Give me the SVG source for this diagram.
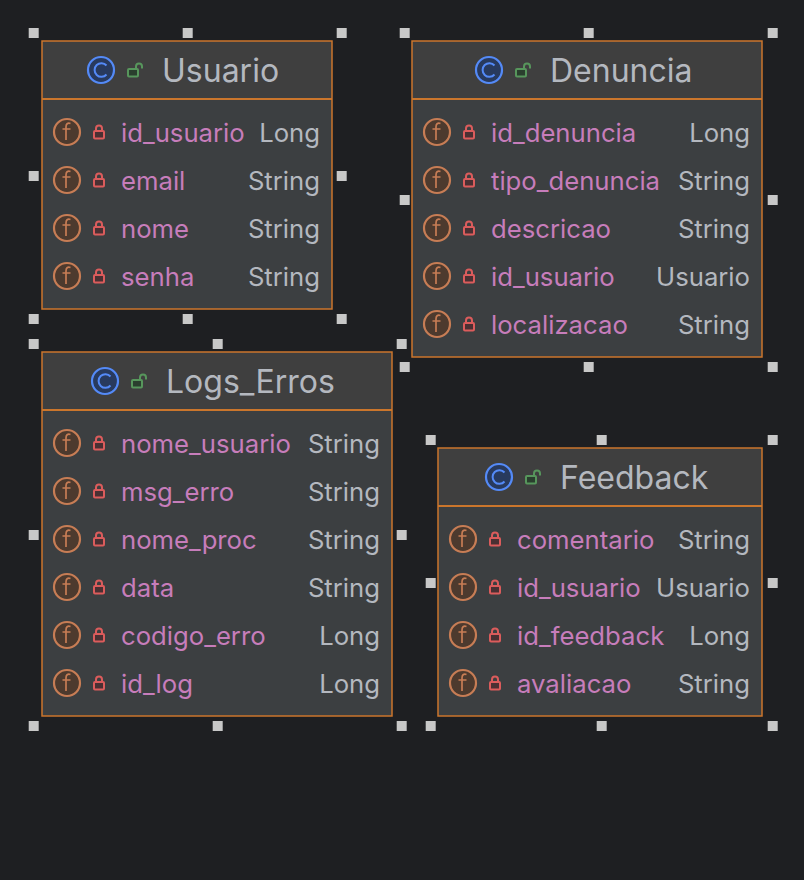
<svg xmlns="http://www.w3.org/2000/svg" xmlns:xlink="http://www.w3.org/1999/xlink" width="804" height="880" viewBox="0 0 804 880">
<style>
.body{fill:#3c3f41;stroke:#cb762c;stroke-width:1.5}
.head{fill:#3f3f3f}
.sep{stroke:#cb762c;stroke-width:2;fill:none}
.h{fill:#c8c8c8}
text{font-family:Inter,"Noto Sans","Liberation Sans",sans-serif}
.t{font-size:32px;fill:#b4b8bf}
.n{font-size:25.7px;fill:#c77dbb}
.v{font-size:25.7px;fill:#b4b8bf;text-anchor:end}
</style>
<defs>
<g id="cls">
<circle r="13" fill="#283a5e" stroke="#548af7" stroke-width="2.2"/>
<path d="M5.5 -4.5A6.8 6.8 0 1 0 5.5 4.5" fill="none" stroke="#548af7" stroke-width="2"/>
<rect x="27" y="-1" width="10" height="7.5" rx="1" fill="#2a3f2e" stroke="#57965c" stroke-width="2"/>
<path d="M35 -1V-3.5a3 3 0 0 1 6 0V-1.5" fill="none" stroke="#57965c" stroke-width="2"/>
</g>
<g id="fld">
<circle r="13" fill="#4d3a2e" stroke="#c77d55" stroke-width="2.2"/>
<path d="M3.5 -8.5C0.5 -9.5 -1 -8 -1 -5V8M-4.5 -3H3.5" fill="none" stroke="#c77d55" stroke-width="1.7"/>
<rect x="27" y="-1" width="10" height="7.5" rx="1" fill="#4a3033" stroke="#db5c5c" stroke-width="2"/>
<path d="M29 -1V-3.5a3 3 0 0 1 6 0V-1" fill="none" stroke="#db5c5c" stroke-width="2"/>
</g>
<rect id="hd" x="-5.3" y="-5" width="10" height="10" class="h"/>
</defs>
<rect width="804" height="880" fill="#1e1f22"/>
<g id="connectors"/>
<g id="Usuario">
<rect class="body" x="42" y="41" width="290" height="268"/>
<rect class="head" x="43" y="42" width="288" height="56"/>
<path class="sep" d="M42 99H332"/>
<use href="#cls" x="101" y="70"/>
<text class="t" x="162" y="82">Usuario</text>
<use href="#fld" x="67" y="132"/><text class="n" x="121" y="142">id_usuario</text><text class="v" x="320" y="142">Long</text>
<use href="#fld" x="67" y="180"/><text class="n" x="121" y="190">email</text><text class="v" x="320" y="190">String</text>
<use href="#fld" x="67" y="228"/><text class="n" x="121" y="238">nome</text><text class="v" x="320" y="238">String</text>
<use href="#fld" x="67" y="276"/><text class="n" x="121" y="286">senha</text><text class="v" x="320" y="286">String</text>
<use href="#hd" x="34" y="33"/><use href="#hd" x="188" y="33"/><use href="#hd" x="342" y="33"/><use href="#hd" x="34" y="176"/><use href="#hd" x="342" y="176"/><use href="#hd" x="34" y="319"/><use href="#hd" x="188" y="319"/><use href="#hd" x="342" y="319"/>
</g>
<g id="Denuncia">
<rect class="body" x="412" y="41" width="350" height="316"/>
<rect class="head" x="413" y="42" width="348" height="56"/>
<path class="sep" d="M412 99H762"/>
<use href="#cls" x="489" y="70"/>
<text class="t" x="550" y="82">Denuncia</text>
<use href="#fld" x="437" y="132"/><text class="n" x="491" y="142">id_denuncia</text><text class="v" x="750" y="142">Long</text>
<use href="#fld" x="437" y="180"/><text class="n" x="491" y="190">tipo_denuncia</text><text class="v" x="750" y="190">String</text>
<use href="#fld" x="437" y="228"/><text class="n" x="491" y="238">descricao</text><text class="v" x="750" y="238">String</text>
<use href="#fld" x="437" y="276"/><text class="n" x="491" y="286">id_usuario</text><text class="v" x="750" y="286">Usuario</text>
<use href="#fld" x="437" y="324"/><text class="n" x="491" y="334">localizacao</text><text class="v" x="750" y="334">String</text>
<use href="#hd" x="405" y="33"/><use href="#hd" x="589" y="33"/><use href="#hd" x="773" y="33"/><use href="#hd" x="405" y="200"/><use href="#hd" x="773" y="200"/><use href="#hd" x="405" y="367"/><use href="#hd" x="589" y="367"/><use href="#hd" x="773" y="367"/>
</g>
<g id="Logs_Erros">
<rect class="body" x="42" y="352" width="350" height="364"/>
<rect class="head" x="43" y="353" width="348" height="56"/>
<path class="sep" d="M42 410H392"/>
<use href="#cls" x="105" y="381"/>
<text class="t" x="166" y="393">Logs_Erros</text>
<use href="#fld" x="67" y="443"/><text class="n" x="121" y="453">nome_usuario</text><text class="v" x="380" y="453">String</text>
<use href="#fld" x="67" y="491"/><text class="n" x="121" y="501">msg_erro</text><text class="v" x="380" y="501">String</text>
<use href="#fld" x="67" y="539"/><text class="n" x="121" y="549">nome_proc</text><text class="v" x="380" y="549">String</text>
<use href="#fld" x="67" y="587"/><text class="n" x="121" y="597">data</text><text class="v" x="380" y="597">String</text>
<use href="#fld" x="67" y="635"/><text class="n" x="121" y="645">codigo_erro</text><text class="v" x="380" y="645">Long</text>
<use href="#fld" x="67" y="683"/><text class="n" x="121" y="693">id_log</text><text class="v" x="380" y="693">Long</text>
<use href="#hd" x="34" y="344"/><use href="#hd" x="218" y="344"/><use href="#hd" x="402" y="344"/><use href="#hd" x="34" y="535"/><use href="#hd" x="402" y="535"/><use href="#hd" x="34" y="726"/><use href="#hd" x="218" y="726"/><use href="#hd" x="402" y="726"/>
</g>
<g id="Feedback">
<rect class="body" x="438" y="448" width="324" height="268"/>
<rect class="head" x="439" y="449" width="322" height="56"/>
<path class="sep" d="M438 506H762"/>
<use href="#cls" x="499" y="477"/>
<text class="t" x="560" y="489">Feedback</text>
<use href="#fld" x="463" y="539"/><text class="n" x="517" y="549">comentario</text><text class="v" x="750" y="549">String</text>
<use href="#fld" x="463" y="587"/><text class="n" x="517" y="597">id_usuario</text><text class="v" x="750" y="597">Usuario</text>
<use href="#fld" x="463" y="635"/><text class="n" x="517" y="645">id_feedback</text><text class="v" x="750" y="645">Long</text>
<use href="#fld" x="463" y="683"/><text class="n" x="517" y="693">avaliacao</text><text class="v" x="750" y="693">String</text>
<use href="#hd" x="431" y="440"/><use href="#hd" x="602" y="440"/><use href="#hd" x="773" y="440"/><use href="#hd" x="431" y="583"/><use href="#hd" x="773" y="583"/><use href="#hd" x="431" y="726"/><use href="#hd" x="602" y="726"/><use href="#hd" x="773" y="726"/>
</g>
</svg>
